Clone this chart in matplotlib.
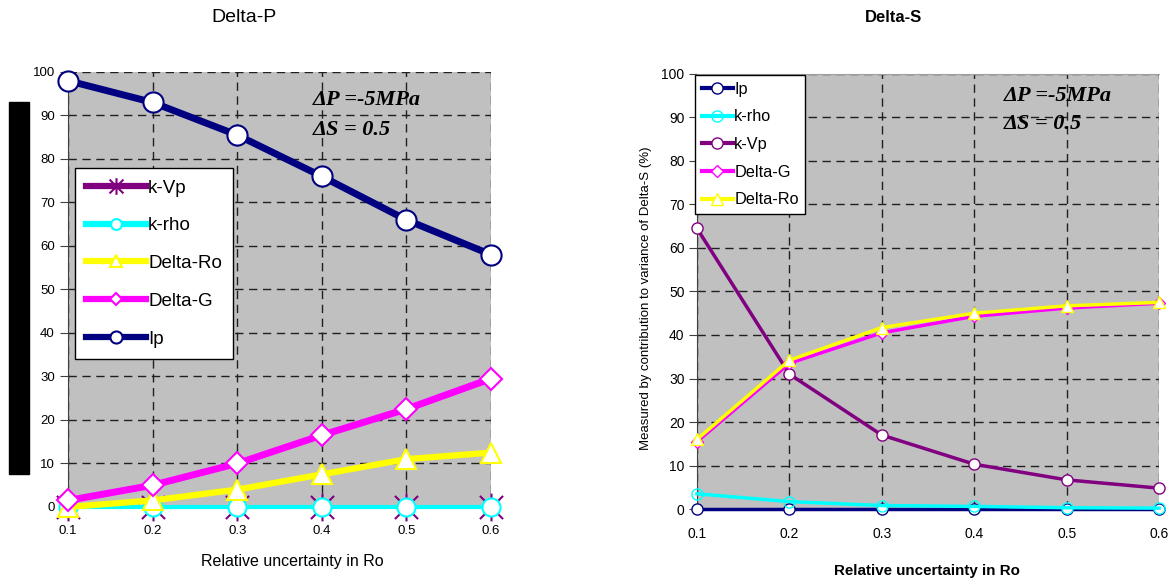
import matplotlib
matplotlib.use('Agg')
import matplotlib.pyplot as plt
from matplotlib.patches import Rectangle
from matplotlib.path import Path

plt.rcParams['font.family'] = ['Liberation Sans', 'DejaVu Sans']

x_vals = [0.1, 0.2, 0.3, 0.4, 0.5, 0.6]

# Delta-P panel
p_ip = [98, 93, 85.5, 76, 66, 58]
p_delta_g = [1.5, 5, 10, 16.5, 22.5, 29.5]
p_delta_ro = [0, 1.5, 4, 7.5, 11, 12.5]
p_k_rho = [0, 0, 0, 0, 0, 0]
p_k_vp = [0, 0, 0, 0, 0, 0]

# Delta-S panel
s_ip = [0, 0, 0, 0, 0, 0]
s_k_rho = [3.5, 1.7, 0.8, 0.6, 0.3, 0.2]
s_k_vp = [64.5, 31, 17, 10.3, 6.7, 4.8]
s_delta_g = [15.5, 33.5, 40.5, 44.3, 46.2, 47.3]
s_delta_ro = [16, 34.2, 41.7, 45, 46.7, 47.5]

y_ticks = list(range(0, 101, 10))
x_label = 'Relative uncertainty in Ro'
note_p = '\u0394P =-5MPa'
note_s = '\u0394S = 0.5'

colours = {
    'navy': '#000080',
    'cyan': '#00FFFF',
    'purple': '#800080',
    'magenta': '#FF00FF',
    'yellow': '#FFFF00',
}

# excel style asterisk: an x with a vertical bar
star = Path([(-1, -1), (1, 1), (-1, 1), (1, -1), (0, -1.2), (0, 1.2)],
            [Path.MOVETO, Path.LINETO, Path.MOVETO, Path.LINETO, Path.MOVETO, Path.LINETO])

fig = plt.figure(figsize=(11.73, 5.82), dpi=100)
ax1 = fig.add_axes([0.058, 0.1289, 0.3606, 0.7474])
ax2 = fig.add_axes([0.5942, 0.1254, 0.3939, 0.7475])


def style_axes(ax, tick_size):
    ax.set_facecolor('#C0C0C0')
    ax.set_xlim(0.1, 0.6)
    ax.set_ylim(0, 100)
    ax.set_xticks(x_vals)
    ax.set_xticklabels([f'{v:.1f}' for v in x_vals])
    ax.set_yticks(y_ticks)
    ax.grid(True, color='#202020', linestyle=(0, (6, 4)), linewidth=1.0)
    ax.set_axisbelow(True)
    for side in ['top', 'right']:
        ax.spines[side].set_visible(False)
    ax.spines['left'].set_color('#404040')
    ax.spines['bottom'].set_color('#404040')
    ax.tick_params(axis='both', labelsize=tick_size, length=6, color='#404040')
    ax.tick_params(axis='x', pad=13, length=0)


# ---- left panel
style_axes(ax1, 9.5)
ax1.plot(x_vals, p_k_vp, color=colours['purple'], lw=1.5, marker=star,
         ms=20, mew=1.5, mec=colours['purple'], label='k-Vp', clip_on=False, zorder=3)
ax1.plot(x_vals, p_k_rho, color=colours['cyan'], lw=3, marker='o', ms=13,
         mfc='white', mec=colours['cyan'], mew=1.5, label='k-rho', clip_on=False, zorder=4)
ax1.plot(x_vals, p_delta_ro, color=colours['yellow'], lw=4.5, marker='^', ms=15,
         mfc='white', mec=colours['yellow'], mew=1.5, label='Delta-Ro', clip_on=False, zorder=5)
ax1.plot(x_vals, p_delta_g, color=colours['magenta'], lw=5, marker='D', ms=11,
         mfc='white', mec=colours['magenta'], mew=1.5, label='Delta-G', clip_on=False, zorder=6)
ax1.plot(x_vals, p_ip, color=colours['navy'], lw=5, marker='o', ms=14.5,
         mfc='white', mec=colours['navy'], mew=1.5, label='Ip', clip_on=False, zorder=7)

leg1 = ax1.legend(loc='upper left', bbox_to_anchor=(0.0165, 0.779), fontsize=13.5,
                  fancybox=False, edgecolor='black', framealpha=1, handlelength=3.2,
                  labelspacing=1.1, borderpad=0.6, handletextpad=0.1, markerscale=0.6,
                  borderaxespad=0)
leg1.get_frame().set_linewidth(1.0)
for h in leg1.legend_handles:
    h.set_linewidth(4.5)
ax1.set_xlabel(x_label, fontsize=11.5)
ax1.xaxis.set_label_coords(0.53, -0.126)
ax1.xaxis.label.set_va('center')
ax1.text(0.579, 0.936, note_p, transform=ax1.transAxes, fontsize=16,
         family='Liberation Serif', weight='bold', style='italic', va='center')
ax1.text(0.579, 0.867, note_s, transform=ax1.transAxes, fontsize=16,
         family='Liberation Serif', weight='bold', style='italic', va='center')
fig.text(244 / 1173, 1 - 18 / 582, 'Delta-P', fontsize=14, ha='center', va='center')

# black block over the original y-axis label
fig.patches.append(Rectangle((9 / 1173, 1 - 474 / 582), 20 / 1173, 372 / 582,
                             transform=fig.transFigure, color='black', zorder=10))

# ---- right panel
style_axes(ax2, 10)
ax2.spines['top'].set_visible(True)
ax2.spines['top'].set_color('#A0A0A0')
ax2.plot(x_vals, s_ip, color=colours['navy'], lw=2.5, marker='o', ms=8,
         mfc='white', mec=colours['navy'], mew=1.0, label='Ip', clip_on=False, zorder=3)
ax2.plot(x_vals, s_k_rho, color=colours['cyan'], lw=2.5, marker='o', ms=8,
         mfc='none', mec=colours['cyan'], mew=1.0, label='k-rho', clip_on=False, zorder=4)
ax2.plot(x_vals, s_k_vp, color=colours['purple'], lw=2.5, marker='o', ms=8,
         mfc='white', mec=colours['purple'], mew=1.0, label='k-Vp', clip_on=False, zorder=5)
ax2.plot(x_vals, s_delta_g, color=colours['magenta'], lw=2.5, marker='D', ms=6.5,
         mfc='white', mec=colours['magenta'], mew=1.0, label='Delta-G', clip_on=False, zorder=6)
ax2.plot(x_vals, s_delta_ro, color=colours['yellow'], lw=2.5, marker='^', ms=9,
         mfc='white', mec=colours['yellow'], mew=1.0, label='Delta-Ro', clip_on=False, zorder=7)

leg2 = ax2.legend(loc='upper left', bbox_to_anchor=(-0.004, 0.997), fontsize=11.7,
                  fancybox=False, edgecolor='black', framealpha=1, handlelength=1.9,
                  labelspacing=0.78, borderpad=0.4, handletextpad=0.1, borderaxespad=0)
leg2.get_frame().set_linewidth(1.0)
for h in leg2.legend_handles:
    h.set_linewidth(3)
fig.text(893 / 1173, 1 - 17 / 582, 'Delta-S', fontsize=12, weight='bold',
         ha='center', va='center')
ax2.set_xlabel(x_label, fontsize=10.9, weight='bold')
ax2.xaxis.set_label_coords(0.498, -0.142)
ax2.xaxis.label.set_va('center')
ax2.set_ylabel('Measured by contribution to variance of Delta-S (%)', fontsize=9.5)
ax2.yaxis.set_label_coords(-0.110, 0.484)
ax2.yaxis.label.set_va('center')
ax2.tick_params(axis='y', pad=3, length=6)
ax2.text(0.664, 0.95, note_p, transform=ax2.transAxes, fontsize=16,
         family='Liberation Serif', weight='bold', style='italic', va='center')
ax2.text(0.664, 0.885, note_s, transform=ax2.transAxes, fontsize=16,
         family='Liberation Serif', weight='bold', style='italic', va='center')

fig.savefig('out.png', dpi=100)
